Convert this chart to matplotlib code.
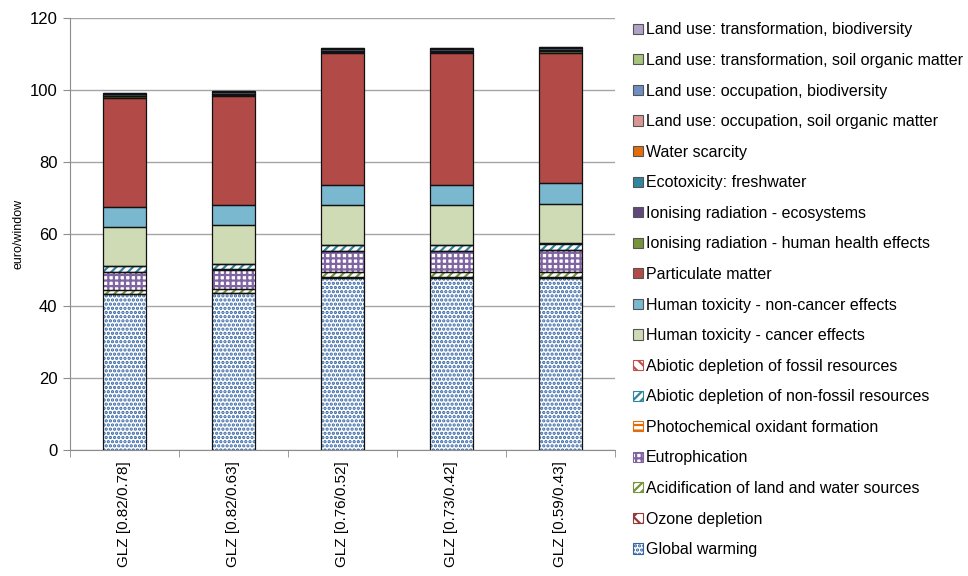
import numpy as np
import matplotlib
matplotlib.use("Agg")
import matplotlib.pyplot as plt
from matplotlib.patches import Patch

plt.rcParams['font.family'] = ['Liberation Sans', 'DejaVu Sans']
plt.rcParams['hatch.linewidth'] = 1.6

# categories (x axis)
labels = ["GLZ [0.82/0.78]", "GLZ [0.82/0.63]", "GLZ [0.76/0.52]",
          "GLZ [0.73/0.42]", "GLZ [0.59/0.43]"]

# impact categories, stacked bottom -> top
categories = [
    "Global warming",
    "Ozone depletion",
    "Acidification of land and water sources",
    "Eutrophication",
    "Photochemical oxidant formation",
    "Abiotic depletion of non-fossil resources",
    "Abiotic depletion of fossil resources",
    "Human toxicity - cancer effects",
    "Human toxicity - non-cancer effects",
    "Particulate matter",
    "Ionising radiation - human health effects",
    "Ionising radiation - ecosystems",
    "Ecotoxicity: freshwater",
    "Water scarcity",
    "Land use: occupation, soil organic matter",
    "Land use: occupation, biodiversity",
    "Land use: transformation, soil organic matter",
    "Land use: transformation, biodiversity",
]

# values in euro/window, one list per impact category
global_warming = [43.3, 43.5, 47.9, 47.9, 47.9]
ozone_depletion = [0.05, 0.05, 0.05, 0.05, 0.05]
acidification = [1.1, 1.1, 1.4, 1.4, 1.5]
eutrophication = [5.0, 5.4, 5.8, 5.8, 6.1]
photochemical = [0.1, 0.1, 0.1, 0.1, 0.1]
abiotic_nonfossil = [1.6, 1.5, 1.7, 1.7, 1.7]
abiotic_fossil = [0.05, 0.05, 0.05, 0.05, 0.05]
ht_cancer = [10.8, 10.9, 11.1, 11.1, 10.9]
ht_noncancer = [5.6, 5.5, 5.6, 5.6, 5.8]
particulate = [30.3, 30.3, 36.6, 36.6, 36.2]
ionising_hh = [0.3, 0.3, 0.3, 0.3, 0.6]
ionising_eco = [0.0, 0.0, 0.0, 0.0, 0.0]
ecotox_fw = [0.1, 0.1, 0.1, 0.1, 0.1]
water_scarcity = [0.05, 0.05, 0.05, 0.05, 0.05]
lu_occ_som = [0.1, 0.1, 0.1, 0.1, 0.1]
lu_occ_bio = [0.5, 0.6, 0.6, 0.6, 0.6]
lu_trans_som = [0.1, 0.1, 0.1, 0.1, 0.1]
lu_trans_bio = [0.2, 0.2, 0.2, 0.2, 0.2]

values = [global_warming, ozone_depletion, acidification, eutrophication,
          photochemical, abiotic_nonfossil, abiotic_fossil, ht_cancer,
          ht_noncancer, particulate, ionising_hh, ionising_eco, ecotox_fw,
          water_scarcity, lu_occ_som, lu_occ_bio, lu_trans_som, lu_trans_bio]

# (facecolor, hatch colour, hatch)
styles = [
    ("white", "#3465a4", "...."),
    ("white", "#953735", "xx"),
    ("white", "#77933c", "////"),
    ("white", "#8064a2", "+++"),
    ("white", "#e46c0a", "---"),
    ("white", "#31859c", "////"),
    ("white", "#c0504d", "\\\\\\"),
    ("#cfdbb5", None, None),
    ("#7ab8cf", None, None),
    ("#b24b48", None, None),
    ("#77933c", None, None),
    ("#5f497a", None, None),
    ("#31859c", None, None),
    ("#e46c0a", None, None),
    ("#d99694", None, None),
    ("#6f8fc0", None, None),
    ("#a9c47f", None, None),
    ("#b3a2c7", None, None),
]

x = np.arange(len(labels))
width = 0.4

fig = plt.figure(figsize=(9.68, 5.76), dpi=100)
ax = fig.add_axes([0.0723, 0.21875, 0.5630, 0.75])

bottom = np.zeros(len(labels))
for vals, (fc, hc, hatch) in zip(values, styles):
    vals = np.array(vals)
    if hatch:
        ax.bar(x, vals, width, bottom=bottom, color=fc, edgecolor=hc,
               hatch=hatch, linewidth=0, zorder=3)
    else:
        ax.bar(x, vals, width, bottom=bottom, color=fc, linewidth=0, zorder=3)
    ax.bar(x, vals, width, bottom=bottom, fill=False, edgecolor="#111111",
           linewidth=0.9, zorder=4)
    bottom += vals

ax.set_xlim(-0.5, len(labels) - 0.5)
ax.set_ylim(0, 120)
ax.set_yticks(np.arange(0, 121, 20))
ax.yaxis.grid(True, color="#a6a6a6", linewidth=1)
ax.set_axisbelow(True)
for s in ["top", "right"]:
    ax.spines[s].set_visible(False)
for s in ["left", "bottom"]:
    ax.spines[s].set_color("#8c8c8c")

ax.set_xticks(x)
ax.set_xticklabels(labels, rotation=90, fontsize=11)
ax.tick_params(axis="x", length=0, pad=8)
ax.set_xticks(np.arange(len(labels) + 1) - 0.5, minor=True)
ax.tick_params(axis="x", which="minor", length=5, color="#8c8c8c")
ax.tick_params(axis="y", labelsize=12, length=5, color="#8c8c8c", pad=4)
ax.set_ylabel("euro/window", fontsize=9, labelpad=4)

handles = []
for (fc, hc, hatch) in styles:
    if hatch:
        handles.append(Patch(facecolor=fc, edgecolor=hc, hatch=hatch, linewidth=0.8))
    else:
        handles.append(Patch(facecolor=fc, edgecolor="#555555", linewidth=0.8))

fig.legend(handles[::-1], categories[::-1], loc="center left",
           bbox_to_anchor=(0.646, 0.497), frameon=False, fontsize=11.5,
           handlelength=0.6, handleheight=0.6, handletextpad=0.2,
           labelspacing=0.975, borderpad=0)

fig.savefig("out.png", dpi=100)
